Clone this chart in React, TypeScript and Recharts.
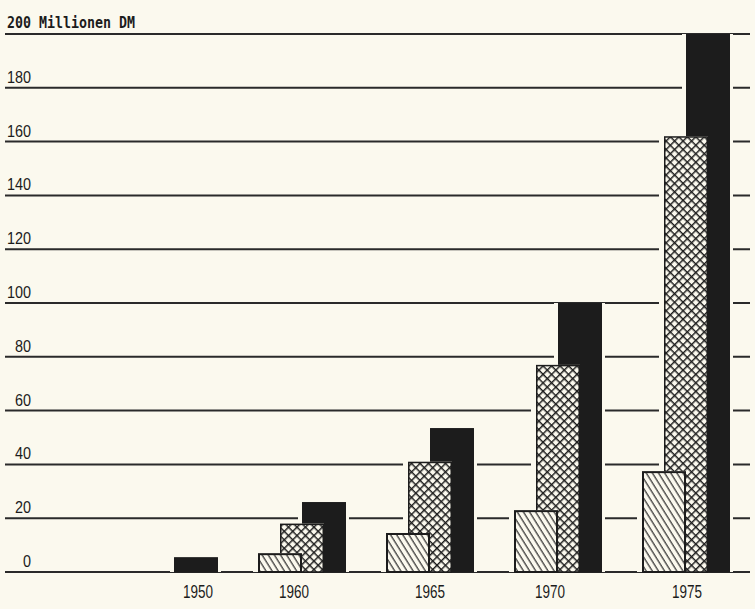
import React from 'react';
import { BarChart, Bar, XAxis, YAxis, CartesianGrid } from 'recharts';

const years = ['1950', '1960', '1965', '1970', '1975'];
const hatchedValues = [0, 7, 14.5, 23, 37.5];
const crossValues = [0, 18, 41, 77, 162];
const blackValues = [5.5, 26, 53.5, 100, 200];
const yTicks = [0, 20, 40, 60, 80, 100, 120, 140, 160, 180, 200];
const topLabel = '200 Millionen DM';

const data = years.map((year, i) => ({
  year,
  hatched: hatchedValues[i],
  cross: crossValues[i],
  black: blackValues[i],
}));

const BG = '#fbf9ee';
const INK = '#1c1c1c';
const NARROW = "'Liberation Sans', 'DejaVu Sans', sans-serif";

const yearShift: Record<string, number> = { '1950': 24, '1960': -8, '1965': 0, '1970': -8, '1975': 1 };

const makeShape = (fill: string, strokeWidth: number, padL: number, padR: number) => (props: any) => {
  const { x, y, width, height } = props;
  if (!height || height <= 0.5) return null;
  return (
    <g>
      <rect x={x - padL} y={y} width={width + padL + padR} height={height} fill={BG} />
      <rect
        x={x + strokeWidth / 2}
        y={y + strokeWidth / 2}
        width={width - strokeWidth}
        height={height - strokeWidth / 2}
        fill={fill}
        stroke={INK}
        strokeWidth={strokeWidth}
      />
    </g>
  );
};

const YTick = (props: any) => {
  const { y, payload } = props;
  const v = payload.value;
  if (v === 200) {
    return (
      <text
        x={7}
        y={y - 6}
        fill={INK}
        fontFamily="'DejaVu Sans Mono', 'Liberation Mono', monospace"
        fontWeight="bold"
        fontSize={15}
        textLength={128}
        lengthAdjust="spacingAndGlyphs"
      >
        {topLabel}
      </text>
    );
  }
  const s = String(v);
  return (
    <text
      x={31}
      y={y - 5}
      textAnchor="end"
      fill={INK}
      fontFamily={NARROW}
      fontSize={17}
      textLength={s.length * 8}
      lengthAdjust="spacingAndGlyphs"
    >
      {s}
    </text>
  );
};

const XTick = (props: any) => {
  const { x, payload } = props;
  const v = String(payload.value);
  return (
    <text
      x={x + (yearShift[v] || 0)}
      y={598}
      textAnchor="middle"
      fill={INK}
      fontFamily={NARROW}
      fontSize={18}
      textLength={30}
      lengthAdjust="spacingAndGlyphs"
    >
      {v}
    </text>
  );
};

export default function App() {
  return (
    <div style={{ position: 'absolute', left: 0, top: 0, width: 755, height: 609, background: BG, overflow: 'hidden' }}>
      <svg width={0} height={0} style={{ position: 'absolute' }}>
        <defs>
          <pattern id="hatch" patternUnits="userSpaceOnUse" width={5.2} height={12} patternTransform="rotate(-32)">
            <rect x={0} y={0} width={5.2} height={12} fill={BG} />
            <line x1={1} y1={-1} x2={1} y2={13} stroke={INK} strokeWidth={1.1} />
          </pattern>
          <pattern id="cross" patternUnits="userSpaceOnUse" width={6} height={6} patternTransform="rotate(45)">
            <rect x={0} y={0} width={6} height={6} fill={BG} />
            <line x1={0} y1={0.7} x2={6} y2={0.7} stroke={INK} strokeWidth={1.5} />
            <line x1={0.7} y1={0} x2={0.7} y2={6} stroke={INK} strokeWidth={1.5} />
          </pattern>
        </defs>
      </svg>
      <BarChart
        width={755}
        height={609}
        data={data}
        margin={{ top: 34, right: 5, bottom: 7, left: 0 }}
        barSize={44}
        barGap={-66}
      >
        <CartesianGrid vertical={false} stroke="#2a2a2a" strokeWidth={2} />
        <XAxis
          dataKey="year"
          height={30}
          padding={{ left: 105, right: 0 }}
          axisLine={false}
          tickLine={false}
          tick={<XTick />}
          interval={0}
        />
        <YAxis
          width={5}
          domain={[0, 200]}
          ticks={yTicks}
          axisLine={false}
          tickLine={false}
          tick={<YTick />}
          interval={0}
        />
        <Bar dataKey="black" fill={INK} isAnimationActive={false} shape={makeShape(INK, 1, 4, 3)} />
        <Bar dataKey="cross" fill="url(#cross)" isAnimationActive={false} shape={makeShape('url(#cross)', 1.5, 5, 0)} />
        <Bar dataKey="hatched" fill="url(#hatch)" isAnimationActive={false} shape={makeShape('url(#hatch)', 2, 5, 0)} />
      </BarChart>
    </div>
  );
}
